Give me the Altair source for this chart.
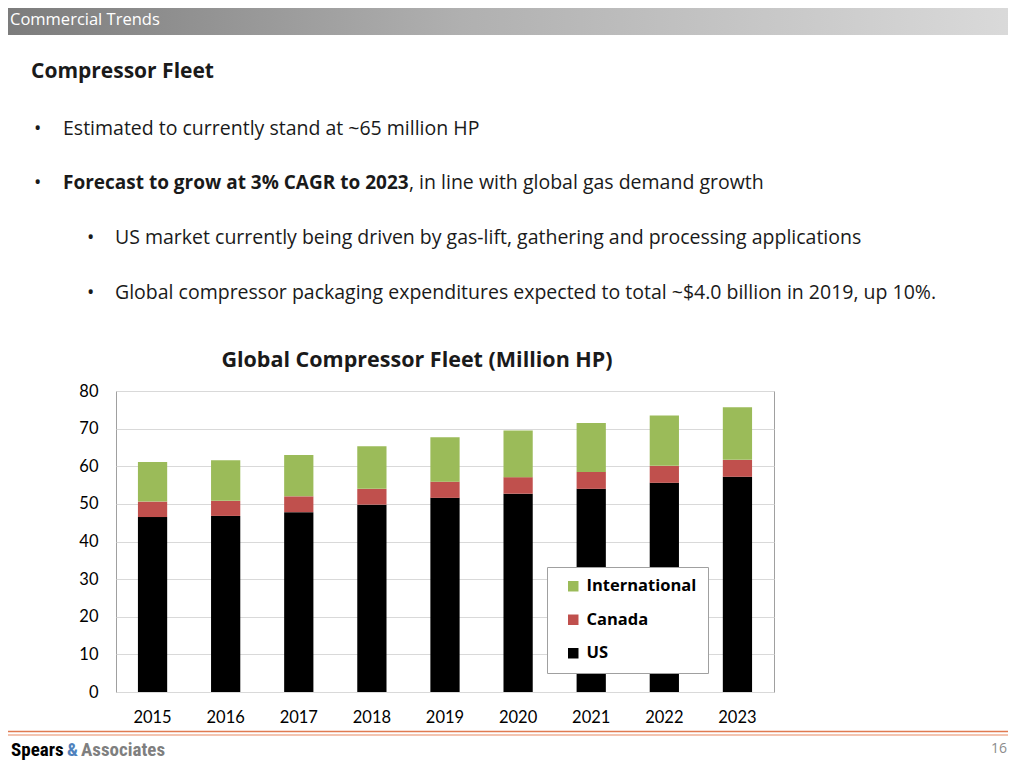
import altair as alt
import pandas as pd

years = ["2015", "2016", "2017", "2018", "2019", "2020", "2021", "2022", "2023"]
us = [46.5, 46.8, 47.8, 49.8, 51.6, 52.7, 54.0, 55.6, 57.2]
canada = [4.1, 4.0, 4.2, 4.2, 4.3, 4.4, 4.5, 4.5, 4.5]
international = [10.5, 10.8, 11.0, 11.3, 11.8, 12.4, 13.0, 13.4, 14.0]
series = ["International", "Canada", "US"]
series_colors = ["#9bbb59", "#c0504d", "#000000"]
y_ticks = [0, 10, 20, 30, 40, 50, 60, 70, 80]

rows = []
for i, yr in enumerate(years):
    rows.append({"year": yr, "series": "US", "value": us[i], "ord": 0})
    rows.append({"year": yr, "series": "Canada", "value": canada[i], "ord": 1})
    rows.append({"year": yr, "series": "International", "value": international[i], "ord": 2})
df = pd.DataFrame(rows)

AXF = "Lato"
FONT = "Open Sans"
BODY = 19.5

bars = alt.Chart(df).mark_bar().encode(
    x=alt.X("year:N", sort=years, title=None,
            scale=alt.Scale(paddingInner=0.6, paddingOuter=0.3),
            axis=alt.Axis(labelAngle=0, labelFontSize=16.5, labelFont=AXF, labelColor="#000000",
                          ticks=False, domain=False, labelPadding=17)),
    y=alt.Y("value:Q", stack="zero", title=None,
            scale=alt.Scale(domain=[0, 80], nice=False),
            axis=alt.Axis(values=y_ticks, labelFontSize=16.5, labelFont=AXF, labelColor="#000000",
                          ticks=False, domain=False, labelPadding=18,
                          gridColor="#d9d9d9", gridWidth=1)),
    color=alt.Color("series:N", scale=alt.Scale(domain=series, range=series_colors),
                    legend=alt.Legend(orient="none", legendX=431, legendY=176, title=None,
                                      fillColor="white", strokeColor="#a0a0a0", padding=11,
                                      symbolType="square", symbolSize=110, symbolStrokeWidth=0,
                                      symbolOffset=7, labelFontSize=16.5, labelFont=FONT,
                                      labelFontWeight="bold", labelColor="#000000",
                                      rowPadding=16.5, labelOffset=5)),
    order=alt.Order("ord:Q", sort="ascending"),
)

one = alt.Data(values=[{}])


def txt(s, x, y, size=BODY, weight="normal", color="#1a1a1a", align="left", font=FONT, baseline="middle"):
    return alt.Chart(one).mark_text(text=s, align=align, baseline=baseline, fontSize=size,
                                    fontWeight=weight, color=color, font=font).encode(
        x=alt.value(x), y=alt.value(y))


header = alt.Chart(one).mark_rect(
    fill={"gradient": "linear", "x1": 0, "x2": 1, "y1": 0, "y2": 0,
          "stops": [{"offset": 0, "color": "#7c7c7c"}, {"offset": 0.45, "color": "#b0b0b0"},
                    {"offset": 1, "color": "#dadada"}]}
).encode(x=alt.value(-108), x2=alt.value(900), y=alt.value(-383), y2=alt.value(-356))

line1 = alt.Chart(one).mark_rule(color="#e07a50", strokeWidth=1.5).encode(
    x=alt.value(-108), x2=alt.value(900), y=alt.value(340.5))
line2 = alt.Chart(one).mark_rule(color="#e88a62", strokeWidth=1.2).encode(
    x=alt.value(-108), x2=alt.value(900), y=alt.value(344))

NARROW = "Liberation Sans Narrow, Roboto Condensed, Liberation Sans"

layers = [
    header,
    txt("Commercial Trends", -106, -371, size=16.5, color="#ffffff"),
    txt("Compressor Fleet", -85, -319, size=21, weight="bold", color="#1a1a1a"),
    txt("•", -82, -262),
    txt("Estimated to currently stand at ~65 million HP", -53, -262),
    txt("•", -82, -208),
    txt("Forecast to grow at 3% CAGR to 2023", -53, -208, size=19, weight="bold"),
    txt(", in line with global gas demand growth", 293, -208),
    txt("•", -29, -153),
    txt("US market currently being driven by gas-lift, gathering and processing applications", -1, -153),
    txt("•", -29, -98),
    txt("Global compressor packaging expenditures expected to total ~$4.0 billion in 2019, up 10%.", -1, -98),
    txt("Global Compressor Fleet (Million HP)", 301, -30, size=21.5, weight="bold", align="center"),
    bars,
    line1,
    line2,
    txt("Spears", -105, 365, size=19, weight="bold", color="#000000", font=NARROW, baseline="alphabetic"),
    txt("&", -49, 365, size=19, weight="bold", color="#4f81bd", font=NARROW, baseline="alphabetic"),
    txt("Associates", -35, 365, size=19, weight="bold", color="#7f7f7f", font=NARROW, baseline="alphabetic"),
    txt("16", 891, 358, size=14, color="#8c8c8c", align="right"),
]

chart = alt.layer(*layers).properties(
    width=658, height=301,
    autosize=alt.AutoSizeParams(type="none"),
    padding={"left": 108, "top": 383, "right": 234, "bottom": 68},
).configure_view(stroke="#a0a0a0", strokeWidth=1)

chart.save("out.html", embed_options={"renderer": "svg", "actions": False})
